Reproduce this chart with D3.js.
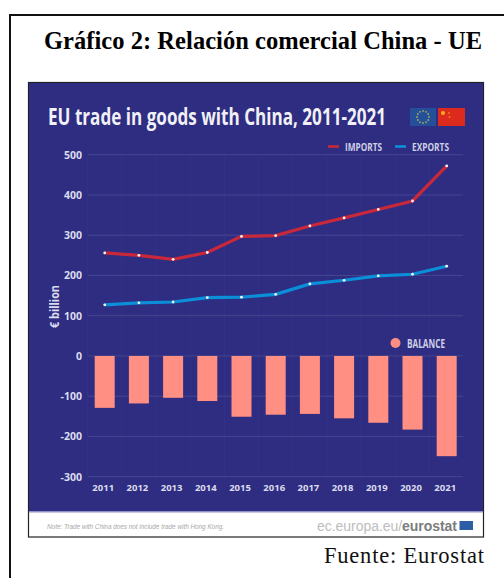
<!DOCTYPE html>
<html>
<head>
<meta charset="utf-8">
<title>Gráfico 2</title>
<script src="https://cdn.jsdelivr.net/npm/d3@7/dist/d3.min.js"></script>
<style>
html,body{margin:0;padding:0;background:#fff;}
svg{display:block;}
.cond{font-family:"Open Sans",Lato,sans-serif;}
</style>
</head>
<body>
<svg id="page" width="504" height="578"></svg>
<script>
const years = [2011,2012,2013,2014,2015,2016,2017,2018,2019,2020,2021];
const imports = [256,250,240,257,297,299,323,343,364,385,472];
const exports_ = [127,132,134,145,146,153,179,188,199,203,223];
const balance = [-129,-118,-104,-112,-151,-146,-144,-155,-166,-183,-249];
const yTicks = [500,400,300,200,100,0,-100,-200,-300];

const svg = d3.select("#page");
const NAVY = "#2e2d81", RED = "#c8283a", BLUE = "#0a8fd8", SALMON = "#ff8f82", PALE = "#dcdcee";

// page frame: top rule and left rule of the surrounding box
svg.append("rect").attr("x",9).attr("y",14).attr("width",495).attr("height",2).attr("fill","#111");
svg.append("rect").attr("x",9).attr("y",14).attr("width",2).attr("height",564).attr("fill","#111");

svg.append("text").attr("x",44).attr("y",49)
  .attr("font-family","'Liberation Serif',serif").attr("font-weight","bold").attr("font-size",24.5)
  .attr("textLength",438).attr("lengthAdjust","spacing")
  .attr("fill","#000").text("Gráfico 2: Relación comercial China - UE");

// inset panel
svg.append("rect").attr("x",28.5).attr("y",82.5).attr("width",455).attr("height",454.5)
  .attr("fill","#fff").attr("stroke","#222").attr("stroke-width",1.2);
svg.append("rect").attr("x",29).attr("y",83).attr("width",454).attr("height",429).attr("fill",NAVY);
svg.append("rect").attr("x",29).attr("y",511).attr("width",454).attr("height",1.5).attr("fill","#8f8fc6");

const cond = (sel, size, fill, weight) => sel.attr("class","cond").attr("font-size",size)
  .attr("fill",fill).attr("font-weight",weight||600);

cond(svg.append("text").attr("x",48).attr("y",125),23,"#f0f0f6",700)
  .attr("textLength",338).attr("lengthAdjust","spacingAndGlyphs")
  .text("EU trade in goods with China, 2011-2021");

// flags
svg.append("rect").attr("x",410).attr("y",108).attr("width",26).attr("height",18).attr("fill","#24509a");
const stars = d3.range(12).map(i => i*Math.PI/6);
svg.append("g").selectAll("circle").data(stars).join("circle")
  .attr("cx",d=>423+6*Math.cos(d)).attr("cy",d=>117+6*Math.sin(d)).attr("r",0.9).attr("fill","#a9a35c");
svg.append("rect").attr("x",438).attr("y",108).attr("width",27).attr("height",18).attr("fill","#dc2a1c");
svg.append("circle").attr("cx",443).attr("cy",113).attr("r",2).attr("fill","#f2b01e");
svg.append("circle").attr("cx",449).attr("cy",113).attr("r",1).attr("fill","#ec7a1c");
svg.append("circle").attr("cx",449.5).attr("cy",117).attr("r",1).attr("fill","#ec7a1c");

// scales
const x = d3.scalePoint().domain(years).range([104.7,446.7]);
const y = d3.scaleLinear().domain([500,-300]).range([154.7,476.7]);

// vertical hairlines, barely visible on the navy ground
svg.append("g").selectAll("line").data(years).join("line")
  .attr("x1",d=>x(d)-17.1).attr("x2",d=>x(d)-17.1).attr("y1",154.7).attr("y2",476.7)
  .attr("stroke","#33328a").attr("stroke-width",1);

// horizontal grid and value axis
const yAxis = d3.axisLeft(y).tickValues(yTicks).tickSize(0).tickPadding(0)
  .tickFormat(d=>d);
const gy = svg.append("g").attr("transform","translate(82,0)").call(yAxis);
gy.select(".domain").remove();
gy.selectAll("text").attr("class","cond").attr("font-size",10.5).attr("font-weight",700)
  .attr("fill",PALE).attr("font-family",null);
svg.append("g").selectAll("line").data(yTicks).join("line")
  .attr("x1",88).attr("x2",463).attr("y1",d=>y(d)).attr("y2",d=>y(d))
  .attr("stroke","#474690").attr("stroke-width",1);

cond(svg.append("text").attr("transform","translate(58.5,328) rotate(-90)"),13,PALE,700)
  .attr("textLength",43).attr("lengthAdjust","spacingAndGlyphs").text("€ billion");

// balance bars
svg.append("g").selectAll("rect").data(balance).join("rect")
  .attr("x",(d,i)=>x(years[i])-10).attr("width",20)
  .attr("y",y(0)).attr("height",d=>y(d)-y(0)).attr("fill",SALMON);

// import and export lines with white point markers
const line = d3.line().x((d,i)=>x(years[i])).y(d=>y(d));
[[imports,RED],[exports_,BLUE]].forEach(([vals,col])=>{
  svg.append("path").attr("d",line(vals)).attr("fill","none").attr("stroke",col).attr("stroke-width",3.2);
  svg.append("g").selectAll("circle").data(vals).join("circle")
    .attr("cx",(d,i)=>x(years[i])).attr("cy",d=>y(d)).attr("r",1.4).attr("fill","#f4f4fa");
});

// category labels
const xAxis = d3.axisBottom(x).tickSize(0).tickPadding(0).tickFormat(d3.format("d"));
const gx = svg.append("g").attr("transform","translate(-2,484)").call(xAxis);
gx.select(".domain").remove();
gx.selectAll("text").attr("class","cond").attr("font-size",9.5).attr("font-weight",700)
  .attr("fill",PALE).attr("font-family",null).attr("dy","0.71em");

// legends
const legendRow = [["IMPORTS",RED,328,345],["EXPORTS",BLUE,395,412]];
legendRow.forEach(([t,c,x0,tx])=>{
  svg.append("line").attr("x1",x0).attr("x2",x0+11).attr("y1",146.5).attr("y2",146.5)
    .attr("stroke",c).attr("stroke-width",2.6);
  cond(svg.append("text").attr("x",tx).attr("y",151),11,"#cfcfe6",700)
    .attr("textLength",37).attr("lengthAdjust","spacingAndGlyphs").text(t);
});
svg.append("circle").attr("cx",395.5).attr("cy",343).attr("r",5).attr("fill",SALMON);
cond(svg.append("text").attr("x",407).attr("y",347.5),11.5,"#cfcfe6",700)
  .attr("textLength",38).attr("lengthAdjust","spacingAndGlyphs").text("BALANCE");

// footer
svg.append("text").attr("x",47).attr("y",528.5).attr("font-family","'Liberation Sans',sans-serif")
  .attr("font-style","italic").attr("font-size",6.4).attr("fill","#a8a8a8")
  .attr("textLength",177).text("Note: Trade with China does not include trade with Hong Kong.");
const foot = svg.append("text").attr("x",317).attr("y",531)
  .attr("font-family","'Liberation Sans',sans-serif").attr("font-size",14).attr("fill","#bdbdbd")
  .attr("textLength",140);
foot.append("tspan").text("ec.europa.eu/");
foot.append("tspan").attr("font-weight","bold").attr("fill","#7c7c7c").text("eurostat");
svg.append("rect").attr("x",459.5).attr("y",521).attr("width",13.5).attr("height",9).attr("fill","#2c5ea6");

svg.append("text").attr("x",324).attr("y",563)
  .attr("font-family","'Liberation Serif',serif").attr("font-size",22.5).attr("fill","#111")
  .attr("textLength",160).attr("lengthAdjust","spacing").text("Fuente: Eurostat");
</script>
</body>
</html>
